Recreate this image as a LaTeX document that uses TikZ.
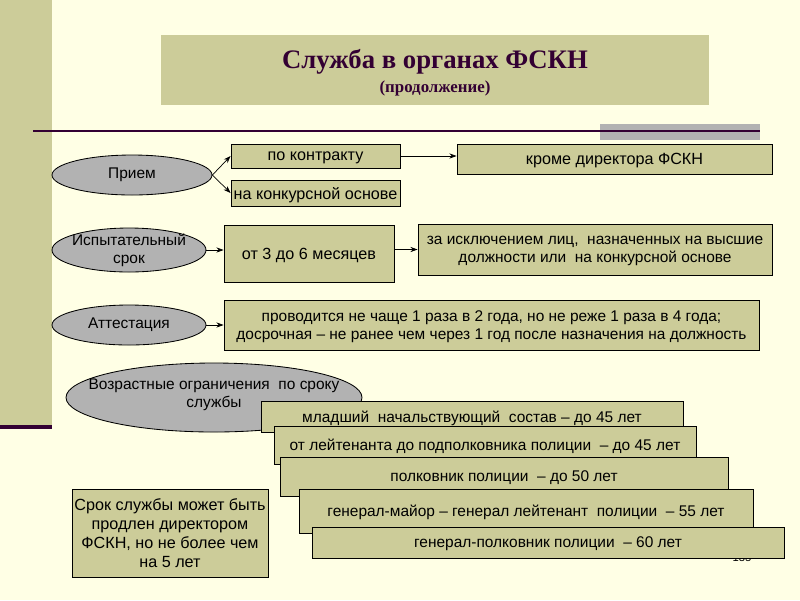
\documentclass[tikz,border=0pt]{standalone}
\usepackage{fontspec}
\setmainfont{Liberation Sans}
\newfontfamily\headfont{Liberation Serif}
\usetikzlibrary{arrows.meta, shapes.geometric}

\definecolor{slidebg}{HTML}{FFFFE5}
\definecolor{olivebox}{HTML}{CCCC99}
\definecolor{ovalgray}{HTML}{B2B2B2}
\definecolor{darkplum}{HTML}{330033}

\begin{document}
\begin{tikzpicture}[x=0.025cm, y=-0.025cm,
  sz/.style 2 args={minimum width=#1*0.025cm, minimum height=#2*0.025cm},
  box/.style={draw, fill=olivebox, line width=0.6pt, inner sep=1pt,
    text depth=-1pt, align=center, font=\fontsize{11.5}{13.5}\selectfont},
  oval/.style={ellipse, draw, fill=ovalgray, line width=0.6pt, inner sep=0pt},
  ovaltext/.style={align=center, inner sep=0pt, font=\fontsize{11}{13}\selectfont},
  link/.style={-{Stealth[length=1.8mm, width=1.3mm]}, line width=0.5pt}]

% slide background
\fill[slidebg] (0,0) rectangle (800,600);
\useasboundingbox (0,0) rectangle (800,600);
\fill[olivebox] (0,0) rectangle (52,425);
\fill[darkplum] (0,425) rectangle (52,429);

% title
\node[fill=olivebox, sz={548}{70}, inner sep=0pt] (title) at (435,70) {};
\node[text=darkplum, font=\headfont\bfseries\fontsize{19}{22}\selectfont]
  (titlemain) at (435,62) {Служба в органах ФСКН};
\node[text=darkplum, font=\headfont\bfseries\fontsize{12}{14}\selectfont]
  (titlesub) at (435,88) {(продолжение)};

\fill[ovalgray] (600,124) rectangle (760,140);
\draw[darkplum, line width=1.6pt] (33,131) -- (760,131);

% Прием
\node[oval, sz={160}{40}] (priem) at (132,175) {};
\node[ovaltext] (priemtxt) at (priem.center) {Прием};
\node[box, sz={169}{24}] (kontrakt) at (315.5,156) {по контракту};
\node[box, sz={169}{26}] (konkurs) at (315.5,193) {на конкурсной основе};
\node[box, sz={315}{30}] (krome) at (614.5,159) {кроме директора ФСКН};
\draw[link] (priem.east) -- (kontrakt.west);
\draw[link] (priem.east) -- (konkurs.west);
\draw[link] (kontrakt.east) -- (kontrakt.east -| krome.west);

% Испытательный срок
\node[oval, sz={154}{44}] (ispyt) at (129,250) {};
\node[ovaltext] (ispyttxt) at (ispyt.center) {Испытательный\\срок};
\node[box, sz={170}{57}] (mesyac) at (309,253.5) {от 3 до 6 месяцев};
\node[box, sz={354}{51}, font=\fontsize{11}{13}\selectfont] (isklyuch) at (595,249.5)
  {за исключением лиц, \ назначенных на высшие\\должности или \ на конкурсной основе};
\draw[link] (ispyt.east) -- (ispyt.east -| mesyac.west);
\draw[link] (mesyac.east |- isklyuch.west) -- (isklyuch.west);

% Аттестация
\node[oval, sz={154}{40}] (attest) at (129,325) {};
\node[ovaltext] (attesttxt) at (attest.center) {Аттестация};
\node[box, sz={535}{50}, font=\fontsize{11}{13}\selectfont] (provod) at (491.5,325)
  {проводится не чаще 1 раза в 2 года, но не реже 1 раза в 4 года;\\
   досрочная -- не ранее чем через 1 год после назначения на должность};
\draw[link] (attest.east) -- (provod.west);

% Возрастные ограничения
\node[oval, sz={296}{69}] (vozrast) at (214,397.5) {};
\node[ovaltext] (vozrasttxt) at (214,395)
  {Возрастные ограничения \ по сроку\\службы};
\node[font=\fontsize{8}{9}\selectfont] (pagenum) at (742,558) {135};
\node[box, sz={422}{31}, font=\fontsize{11}{13}\selectfont] (mladsh) at (472,416.5)
  {младший \ начальствующий \ состав -- до 45 лет};
\node[box, sz={422}{38}, font=\fontsize{11}{13}\selectfont] (leitn) at (485,445)
  {от лейтенанта до подполковника полиции \ -- до 45 лет};
\node[box, sz={448}{39}, font=\fontsize{11}{13}\selectfont] (polkov) at (504,476.5)
  {полковник полиции \ -- до 50 лет};
\node[box, sz={454}{44}, font=\fontsize{11}{13}\selectfont] (genmaj) at (526,511)
  {генерал-майор -- генерал лейтенант \ полиции \ -- 55 лет};
\node[box, sz={472}{31}, font=\fontsize{11}{13}\selectfont] (genpolk) at (548,542.5)
  {генерал-полковник полиции \ -- 60 лет};

% продление срока
\node[box, sz={196}{88}] (prodlen) at (170,533)
  {Срок службы может быть\\продлен директором\\ФСКН, но не более чем\\на 5 лет};

\end{tikzpicture}
\end{document}
